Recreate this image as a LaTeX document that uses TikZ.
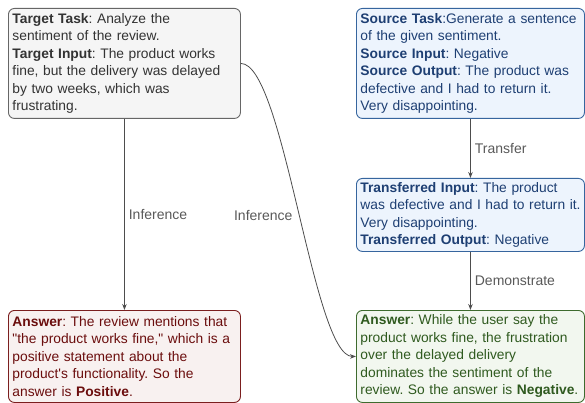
\documentclass[tikz,border=0pt]{standalone}
\usepackage{fontspec}
\setmainfont{Liberation Sans}[Ligatures=TeXOff]
\usetikzlibrary{arrows.meta}
\definecolor{tlfill}{HTML}{F5F5F5}
\definecolor{tldraw}{HTML}{666666}
\definecolor{tltext}{HTML}{333333}
\definecolor{srcfill}{HTML}{EDF4FD}
\definecolor{srcdraw}{HTML}{36659E}
\definecolor{srctext}{HTML}{1E3F73}
\definecolor{brfill}{HTML}{F2F7EF}
\definecolor{brdraw}{HTML}{3E6B2E}
\definecolor{brtext}{HTML}{2F5A1F}
\definecolor{blfill}{HTML}{F8F1F0}
\definecolor{bldraw}{HTML}{7B1E1E}
\definecolor{bltext}{HTML}{6B0D0D}
\definecolor{linecol}{HTML}{4D4D4D}
\definecolor{labcol}{HTML}{595959}
\newcommand{\cardline}[1]{\mbox{#1}}
\tikzset{
  card/.style={draw, rounded corners=6pt, line width=0.9pt, anchor=north west,
    inner xsep=4pt, inner ysep=2pt, align=left,
    font=\fontsize{13.8pt}{17.5pt}\selectfont\frenchspacing},
  conn/.style={draw=linecol, line width=0.8pt, -{Stealth[length=6pt,width=4.5pt]}},
  lab/.style={text=labcol, font=\fontsize{14pt}{16pt}\selectfont, inner sep=0pt}
}
\begin{document}
\begin{tikzpicture}[x=1pt,y=-1pt]
\useasboundingbox (0,0) rectangle (585,403);
\node[card, fill=tlfill, draw=tldraw, text=tltext, minimum width=232pt, minimum height=110pt, text width=224pt] (tl) at (8,8) {%
\cardline{\textbf{Target Task}: Analyze the}\\
\cardline{sentiment of the review.}\\
\cardline{\textbf{Target Input}: The product works}\\
\cardline{fine, but the delivery was delayed}\\
\cardline{by two weeks, which was}\\
\cardline{frustrating.}};
\node[card, fill=srcfill, draw=srcdraw, text=srctext, minimum width=228pt, minimum height=110pt, text width=220pt] (src) at (356,8) {%
\cardline{\textbf{Source Task}:Generate a sentence}\\
\cardline{of the given sentiment.}\\
\cardline{\textbf{Source Input}: Negative}\\
\cardline{\textbf{Source Output}: The product was}\\
\cardline{defective and I had to return it.}\\
\cardline{Very disappointing.}};
\node[card, fill=srcfill, draw=srcdraw, text=srctext, minimum width=228pt, minimum height=73pt, text width=220pt] (tr) at (356,178) {%
\cardline{\textbf{Transferred Input}: The product}\\
\cardline{was defective and I had to return it.}\\
\cardline{Very disappointing.}\\
\cardline{\textbf{Transferred Output}: Negative}};
\node[card, fill=blfill, draw=bldraw, text=bltext, minimum width=232pt, minimum height=92pt, text width=224pt] (bl) at (8,310) {%
\cardline{\textbf{Answer}: The review mentions that}\\
\cardline{"the product works fine," which is a}\\
\cardline{positive statement about the}\\
\cardline{product's functionality. So the}\\
\cardline{answer is \textbf{Positive}.}};
\node[card, fill=brfill, draw=brdraw, text=brtext, minimum width=228pt, minimum height=92pt, text width=220pt] (br) at (356,310) {%
\cardline{\textbf{Answer}: While the user say the}\\
\cardline{product works fine, the frustration}\\
\cardline{over the delayed delivery}\\
\cardline{dominates the sentiment of the}\\
\cardline{review. So the answer is \textbf{Negative}.}};
\path[conn] (tl.south) -- node[lab, right=4pt] {Inference} (bl.north);
\path[conn] (src.south) -- node[lab, right=4pt] {Transfer} (tr.north);
\path[conn] (tr.south) -- node[lab, right=4pt] {Demonstrate} (br.north);
\path[conn] (tl.east) .. controls +(43,0) and +(-43,0) .. node[lab, pos=0.513, left=7pt] {Inference} (br.west);
\end{tikzpicture}
\end{document}
